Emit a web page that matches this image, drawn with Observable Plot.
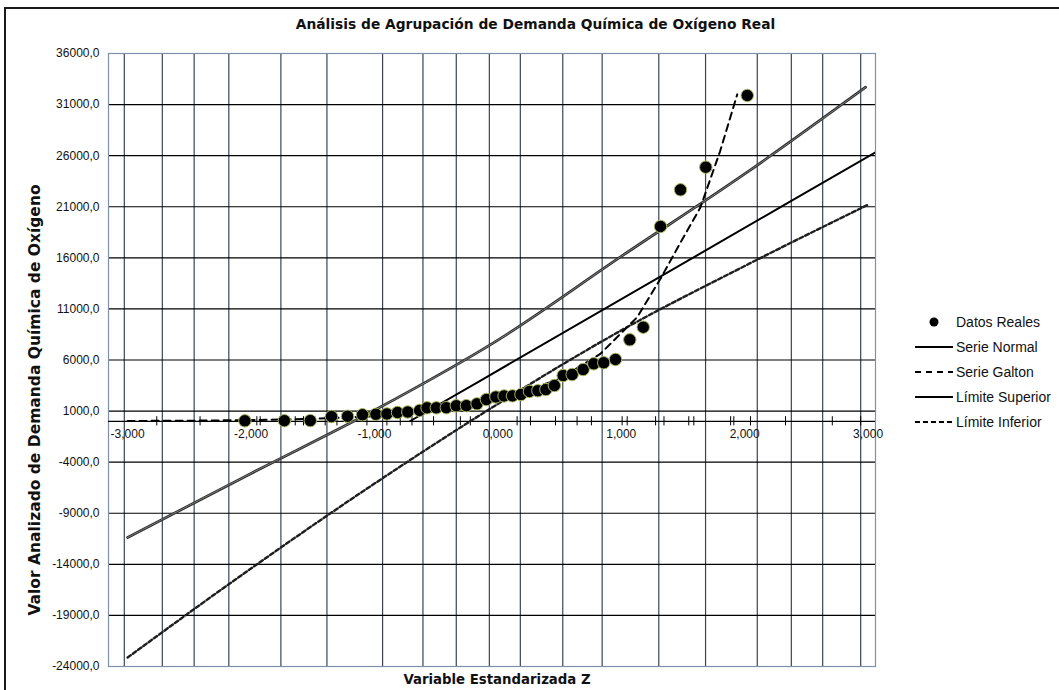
<!DOCTYPE html>
<html>
<head>
<meta charset="utf-8">
<script src="https://cdn.jsdelivr.net/npm/d3@7"></script>
<script src="https://cdn.jsdelivr.net/npm/@observablehq/plot@0.6"></script>
<style>
  html, body { margin: 0; padding: 0; background: #fff; overflow: hidden; }
  body { width: 1059px; height: 690px; position: relative; font-family: "Liberation Sans", Arial, sans-serif; }
  #chart { position: absolute; left: 0; top: 0; }
  .border { position: absolute; left: 4px; top: 7px; width: 1100px; height: 700px; border: 2px solid #1a1a1a; border-right: none; border-bottom: none; box-sizing: border-box; pointer-events: none; }
  .title { position: absolute; left: 0; top: 16px; width: 1071px; text-align: center; font-family: "DejaVu Sans", Verdana, sans-serif; font-weight: bold; font-size: 13.8px; color: #111; }
  .ytitle { position: absolute; left: 35px; top: 400px; transform: translate(-50%, -50%) rotate(-90deg); white-space: nowrap; font-family: "DejaVu Sans", Verdana, sans-serif; font-weight: bold; font-size: 15.5px; color: #111; }
  .xtitle { position: absolute; left: 497px; top: 672px; transform: translateX(-50%); white-space: nowrap; font-family: "DejaVu Sans", Verdana, sans-serif; font-weight: bold; font-size: 13.3px; color: #111; }
  .legend { position: absolute; left: 912px; top: 309px; font-family: "Liberation Sans", Arial, sans-serif; font-size: 14px; color: #111; }
  .legend .item { height: 25px; display: flex; align-items: center; white-space: nowrap; }
  .legend svg { width: 42px; height: 12px; margin-right: 2px; flex: none; }
</style>
</head>
<body>
<div id="chart"></div>
<div class="border"></div>
<div class="title">Análisis de Agrupación de Demanda Química de Oxígeno Real</div>
<div class="ytitle">Valor Analizado de Demanda Química de Oxígeno</div>
<div class="xtitle">Variable Estandarizada Z</div>
<div class="legend" id="legend"></div>
<script>
// ---- data ----
const zReal = [-2.05,-1.73,-1.52,-1.348,-1.218,-1.097,-0.988,-0.899,-0.813,-0.730,-0.634,-0.574,-0.499,-0.418,-0.337,-0.255,-0.169,-0.093,-0.016,0.050,0.118,0.187,0.256,0.324,0.389,0.458,0.529,0.602,0.691,0.777,0.858,0.953,1.069,1.178,1.318,1.480,1.685,2.021];
const vReal = [50,60,70,470,490,640,690,720,860,910,1060,1320,1320,1330,1520,1530,1710,2130,2380,2480,2490,2620,2920,2990,3110,3500,4480,4580,5070,5630,5730,6050,7980,9210,19070,22660,24870,31890];

const zNormal = [-0.71, -0.14, 2.29, 3.06];
const vNormal = [30, 3990, 20960, 26320];

const zGalton = [-3.0,-2.5,-2.0,-1.5,-1.0,-0.5,0.0,0.5,0.83,1.13,1.32,1.48,1.64,1.80,1.94];
const vGalton = [30,60,120,240,490,1000,2040,4150,6600,10200,14000,17500,20900,26400,32000];

const zSup = [-3,-2,-1,0,1,2,2.98];
const vSup = [-11370,-5100,1080,7950,16140,24210,32700];

const zInf = [-3,-2,-1,0,1,2,3];
const vInf = [-23120,-14400,-6100,1700,8900,15200,21200];

const xTicks = [-3,-2,-1,0,1,2,3];
const yTicks = d3.range(-24000, 36001, 5000);
const gridZ = [-3.027,-2.719,-2.461,-2.180,-1.758,-1.385,-0.934,-0.607,-0.337,-0.069,0.182,0.526,0.845,1.304,1.683,2.102,2.378,2.632,2.940];
const axisTickZ = [-2.764,-2.413,-1.953,-1.926,-1.642,-1.575,-1.399,-1.304,-1.061,-0.899,-0.791,-0.696,-0.521,-0.304,-0.223,0.156,0.264,0.467,0.642,0.758,1.007,1.048,1.278,1.346,1.547,1.588,1.886,1.912,2.047,2.331,2.710,2.940];

const legendItems = ["Datos Reales","Serie Normal","Serie Galton","Límite Superior","Límite Inferior"];

// ---- build tables ----
const toRows = (zs, vs) => zs.map((z, i) => ({z, v: vs[i]}));
const real = toRows(zReal, vReal);
const normal = toRows(zNormal, vNormal);
const galton = toRows(zGalton, vGalton);
const sup = toRows(zSup, vSup);
const inf = toRows(zInf, vInf);

const fmtX = d => (d).toFixed(3).replace(".", ",");
const fmtY = d => (d).toFixed(1).replace(".", ",");

const chart = Plot.plot({
  width: 1059,
  height: 690,
  marginLeft: 108,
  marginRight: 184,
  marginTop: 53,
  marginBottom: 24,
  style: { background: "transparent", fontFamily: "Liberation Sans, Arial, sans-serif", fontSize: "12px", color: "#111" },
  x: { domain: [-3.155, 3.06], axis: null },
  y: { domain: [-24000, 36000], axis: null },
  marks: [
    Plot.ruleX(gridZ, { stroke: "#3a4455", strokeWidth: 1.2 }),
    Plot.ruleY(yTicks, { stroke: "#000", strokeWidth: 1.2 }),
    Plot.frame({ stroke: "#7d91ab", strokeWidth: 1.2 }),
    Plot.ruleY([0], { stroke: "#000", strokeWidth: 1.2 }),
    Plot.ruleX(axisTickZ, { y1: -450, y2: 450, stroke: "#000", strokeWidth: 1 }),
    Plot.text(yTicks, { y: d => d, frameAnchor: "left", dx: -9, textAnchor: "end", text: fmtY, fill: "#111" }),
    Plot.text(xTicks, { x: d => d, y: 0, dy: 13, text: fmtX, fill: "#111" }),
    // Límite Inferior
    Plot.line(inf, { x: "z", y: "v", curve: "monotone-x", stroke: "#1e1e1e", strokeWidth: 2.4, strokeDasharray: "4,2.5", clip: true }),
    // Límite Superior
    Plot.line(sup, { x: "z", y: "v", curve: "monotone-x", stroke: "#2e2e2e", strokeWidth: 2.8, clip: true }),
    Plot.line(sup, { x: "z", y: "v", curve: "monotone-x", stroke: "#9a9a9a", strokeWidth: 0.8, strokeDasharray: "1.5,1", clip: true }),
    // Serie Normal
    Plot.line(normal, { x: "z", y: "v", stroke: "#000", strokeWidth: 2, clip: true }),
    // Serie Galton
    Plot.line(galton, { x: "z", y: "v", stroke: "#000", strokeWidth: 2, strokeDasharray: "7,5", clip: true }),
    // Datos Reales
    Plot.dot(real, { x: "z", y: "v", r: 6.2, fill: "#000", stroke: "#a9b65a", strokeWidth: 1 })
  ]
});
document.getElementById("chart").appendChild(chart);

// ---- legend ----
const symbols = [
  '<circle cx="22" cy="6" r="4.5" fill="#000"/>',
  '<line x1="3" y1="6" x2="41" y2="6" stroke="#000" stroke-width="2"/>',
  '<line x1="3" y1="6" x2="41" y2="6" stroke="#000" stroke-width="2" stroke-dasharray="6,5"/>',
  '<line x1="3" y1="6" x2="41" y2="6" stroke="#000" stroke-width="2"/>',
  '<line x1="3" y1="6" x2="41" y2="6" stroke="#000" stroke-width="2" stroke-dasharray="5,3"/>'
];
const leg = document.getElementById("legend");
legendItems.forEach((name, i) => {
  const div = document.createElement("div");
  div.className = "item";
  div.innerHTML = `<svg viewBox="0 0 42 12">${symbols[i]}</svg><span>${name}</span>`;
  leg.appendChild(div);
});
</script>
</body>
</html>
